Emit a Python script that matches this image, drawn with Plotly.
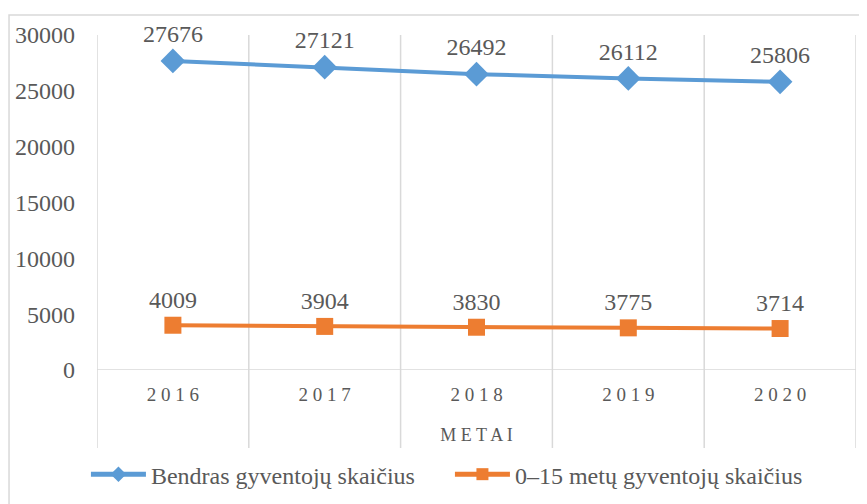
import plotly.graph_objects as go

years = ["2016", "2017", "2018", "2019", "2020"]
total_pop = [27676, 27121, 26492, 26112, 25806]
child_pop = [4009, 3904, 3830, 3775, 3714]
series_names = ["Bendras gyventojų skaičius", "0–15 metų gyventojų skaičius"]
y_ticks = [0, 5000, 10000, 15000, 20000, 25000, 30000]
x_title = "METAI"

FONT = "Times New Roman, Liberation Serif, Tinos, serif"
TXT = "#595959"
GRID = "#D9D9D9"
xs = list(range(len(years)))

fig = go.Figure()
fig.add_trace(go.Scatter(
    x=xs, y=total_pop, name=series_names[0], mode="lines+markers+text",
    line=dict(color="#5B9BD5", width=4),
    marker=dict(symbol="diamond", size=19, color="#5B9BD5"),
    text=[str(v) for v in total_pop], textposition="top center",
    textfont=dict(family=FONT, size=24, color=TXT), cliponaxis=False))
fig.add_trace(go.Scatter(
    x=xs, y=child_pop, name=series_names[1], mode="lines+markers+text",
    line=dict(color="#ED7D31", width=4),
    marker=dict(symbol="square", size=17, color="#ED7D31"),
    text=[str(v) for v in child_pop], textposition="top center",
    textfont=dict(family=FONT, size=24, color=TXT), cliponaxis=False))

shapes = []
for i in range(len(years) + 1):
    shapes.append(dict(type="line", xref="x", yref="paper", x0=i - 0.5, x1=i - 0.5,
                       y0=-0.233, y1=1.0, line=dict(color=GRID, width=1.5), layer="below"))
shapes.append(dict(type="line", xref="paper", yref="y", x0=0, x1=1, y0=0, y1=0,
                   line=dict(color=GRID, width=1.5), layer="below"))
shapes.append(dict(type="rect", xref="paper", yref="paper", x0=-0.1159, x1=1.05,
                   y0=-0.45, y1=1.0597, line=dict(color=GRID, width=1.5), layer="below"))

fig.update_layout(
    width=867, height=504,
    margin=dict(l=89, r=19, t=27, b=142),
    paper_bgcolor="white", plot_bgcolor="white",
    font=dict(family=FONT, color=TXT, size=24),
    showlegend=True,
    legend=dict(orientation="h", x=0.465, xanchor="center", y=-0.245, yanchor="top",
                font=dict(family=FONT, size=24, color=TXT), itemwidth=55,
                itemsizing="constant", entrywidth=294, entrywidthmode="pixels",
                tracegroupgap=0, bgcolor="rgba(0,0,0,0)"),
    shapes=shapes,
    xaxis=dict(range=[-0.5, len(years) - 0.5], tickvals=xs, automargin=False,
               ticktext=[" ".join(y) for y in years], showgrid=False, zeroline=False,
               showline=False, ticks="", tickfont=dict(family=FONT, size=19, color=TXT),
               ticklabelstandoff=11,
               title=dict(text=" ".join(x_title), font=dict(family=FONT, size=18, color=TXT),
                          standoff=24)),
    yaxis=dict(range=[0, 30000], tickvals=y_ticks, ticktext=[str(v) for v in y_ticks],
               automargin=False, showgrid=False, zeroline=False,
               showline=False, ticks="", tickfont=dict(family=FONT, size=24, color=TXT),
               ticklabelstandoff=21),
)

fig.write_html("out.html")
